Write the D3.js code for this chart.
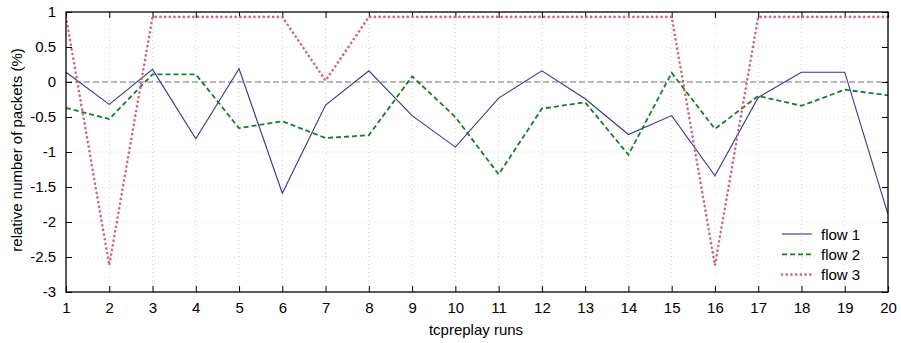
<!DOCTYPE html>
<html>
<head>
<meta charset="utf-8">
<script src="https://cdn.jsdelivr.net/npm/d3@7"></script>
<style>
  html, body { margin: 0; padding: 0; background: #fff; }
  svg { display: block; font-family: "Liberation Sans", Arial, sans-serif; }
</style>
</head>
<body>
<svg id="chart" width="901" height="343"></svg>
<script>
// Runs of tcpreplay and relative packet-count deviation (%) per flow
const runs = d3.range(1, 21);
const flow1 = [0.14, -0.32, 0.18, -0.81, 0.19, -1.59, -0.33, 0.16, -0.48, -0.93,
               -0.23, 0.16, -0.24, -0.75, -0.48, -1.34, -0.22, 0.14, 0.14, -1.89];
const flow2 = [-0.37, -0.53, 0.11, 0.11, -0.66, -0.56, -0.80, -0.76, 0.08, -0.50,
               -1.32, -0.38, -0.29, -1.04, 0.13, -0.67, -0.20, -0.34, -0.11, -0.19];
const flow3 = [0.93, -2.62, 0.93, 0.93, 0.93, 0.93, 0.02, 0.93, 0.93, 0.93,
               0.93, 0.93, 0.93, 0.93, 0.93, -2.62, 0.93, 0.93, 0.93, 0.93];
const seriesNames = ["flow 1", "flow 2", "flow 3"];
const yTicks = [1, 0.5, 0, -0.5, -1, -1.5, -2, -2.5, -3];

const svg = d3.select("#chart");
const mLeft = 66, mRight = 888, mTop = 12, mBottom = 292;
const fontSize = 15;

const x = d3.scaleLinear().domain([1, 20]).range([mLeft, mRight]);
const y = d3.scaleLinear().domain([-3, 1]).range([mBottom, mTop]);

// grid
const grid = svg.append("g").attr("stroke", "#d4d4d4").attr("stroke-width", 1)
  .attr("stroke-dasharray", "1,3");
grid.selectAll("line.gx").data(runs.slice(1, -1)).join("line")
  .attr("class", "gx")
  .attr("x1", d => x(d)).attr("x2", d => x(d)).attr("y1", mTop).attr("y2", mBottom);
grid.selectAll("line.gy").data(yTicks.filter(d => d !== 1 && d !== -3 && d !== 0)).join("line")
  .attr("class", "gy")
  .attr("x1", mLeft).attr("x2", mRight).attr("y1", d => y(d)).attr("y2", d => y(d));

// zero reference line
svg.append("line")
  .attr("x1", mLeft).attr("x2", mRight).attr("y1", y(0)).attr("y2", y(0))
  .attr("stroke", "#a0a0a0").attr("stroke-width", 1.5).attr("stroke-dasharray", "6,3");

// axes with inward ticks, mirrored on top and right
const tickLen = 6;
const axisB = d3.axisBottom(x).tickValues(runs).tickFormat(d3.format("d")).tickSizeInner(-tickLen).tickSizeOuter(0).tickPadding(10);
const axisT = d3.axisTop(x).tickValues(runs).tickFormat("").tickSizeInner(-tickLen).tickSizeOuter(0);
const axisL = d3.axisLeft(y).tickValues(yTicks).tickFormat(d => String(d)).tickSizeInner(-tickLen).tickSizeOuter(0).tickPadding(10);
const axisR = d3.axisRight(y).tickValues(yTicks).tickFormat("").tickSizeInner(-tickLen).tickSizeOuter(0);

function styleAxis(g) {
  g.select(".domain").remove();
  g.selectAll(".tick line").attr("stroke", "#000").attr("stroke-width", 1);
  g.selectAll(".tick text").attr("fill", "#000").attr("font-size", fontSize)
    .attr("font-family", "Liberation Sans, Arial, sans-serif");
}
svg.append("g").attr("transform", `translate(0,${mBottom})`).call(axisB).call(styleAxis);
svg.append("g").attr("transform", `translate(0,${mTop})`).call(axisT).call(styleAxis);
svg.append("g").attr("transform", `translate(${mLeft},0)`).call(axisL).call(styleAxis);
svg.append("g").attr("transform", `translate(${mRight},0)`).call(axisR).call(styleAxis);

// series
const styles = [
  { color: "#33339a", width: 1.1, dash: null, cap: "butt" },
  { color: "#1b7a2c", width: 1.8, dash: "5,3", cap: "butt" },
  { color: "#d3647a", width: 2.6, dash: "0.1,4.6", cap: "round" }
];
const data = [flow1, flow2, flow3];
const line = d3.line().x((d, i) => x(runs[i])).y(d => y(d));

svg.append("clipPath").attr("id", "plotclip")
  .append("rect").attr("x", mLeft).attr("y", mTop).attr("width", mRight - mLeft).attr("height", mBottom - mTop);

svg.append("g").attr("clip-path", "url(#plotclip)")
  .selectAll("path").data(data.map((d, i) => ({ values: d, style: styles[i] }))).join("path")
  .attr("d", d => line(d.values))
  .attr("fill", "none")
  .attr("stroke", d => d.style.color)
  .attr("stroke-width", d => d.style.width)
  .attr("stroke-dasharray", d => d.style.dash)
  .attr("stroke-linecap", d => d.style.cap)
  .attr("stroke-linejoin", "miter");

// frame
svg.append("rect").attr("x", mLeft).attr("y", mTop).attr("width", mRight - mLeft).attr("height", mBottom - mTop)
  .attr("fill", "none").attr("stroke", "#000").attr("stroke-width", 1.3);

// legend
const legend = svg.append("g");
seriesNames.forEach((name, i) => {
  const ly = 234 + i * 20.3;
  legend.append("line").attr("x1", 782).attr("x2", 812).attr("y1", ly).attr("y2", ly)
    .attr("stroke", styles[i].color).attr("stroke-width", styles[i].width)
    .attr("stroke-dasharray", styles[i].dash).attr("stroke-linecap", styles[i].cap);
  legend.append("text").attr("x", 821).attr("y", ly + 5.5).attr("font-size", fontSize).attr("fill", "#000")
    .text(name);
});

// axis titles
svg.append("text").attr("x", 476).attr("y", 335).attr("text-anchor", "middle")
  .attr("font-size", fontSize).attr("fill", "#000").text("tcpreplay runs");
svg.append("text").attr("transform", `translate(22,150) rotate(-90)`)
  .attr("text-anchor", "middle").attr("font-size", fontSize).attr("fill", "#000")
  .text("relative number of packets (%)");
</script>
</body>
</html>
